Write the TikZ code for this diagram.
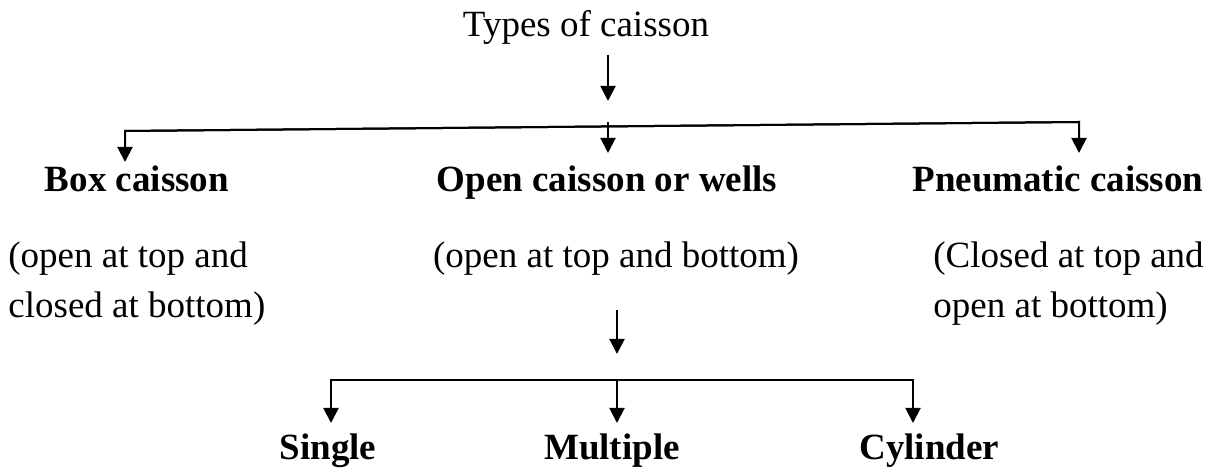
\documentclass[tikz,border=0pt]{standalone}
\usepackage{fontspec}
\setmainfont{Liberation Serif}
\usetikzlibrary{arrows.meta}
\begin{document}
\begin{tikzpicture}[x=0.5pt,y=-0.5pt,
  lbl/.style={inner sep=0pt, font=\fontsize{18.5}{22}\selectfont},
  blbl/.style={inner sep=0pt, font=\fontsize{18.5}{22}\selectfont\bfseries},
  conn/.style={line width=1pt, line join=miter},
  arr/.style={conn, -{Triangle[width=7.5pt,length=7.5pt]}}]
\useasboundingbox (0,0) rectangle (1221,474);

% texts
\node[lbl, anchor=base] (title) at (586,37) {Types of caisson};
\node[blbl, anchor=base] (box) at (137,192) {Box caisson};
\node[blbl, anchor=base] (open) at (607,192) {Open caisson or wells};
\node[blbl, anchor=base west] (pneu) at (912,192) {Pneumatic caisson};
\node[lbl, anchor=base west] (boxd1) at (8,268) {(open at top and};
\node[lbl, anchor=base west] (boxd2) at (8,318) {closed at bottom)};
\node[lbl, anchor=base] (opend) at (616,268) {(open at top and bottom)};
\node[lbl, anchor=base west] (pneud1) at (933,268) {(Closed at top and};
\node[lbl, anchor=base west] (pneud2) at (933,318) {open at bottom)};
\node[blbl, anchor=base] (single) at (328,460) {Single};
\node[blbl, anchor=base] (multiple) at (612,460) {Multiple};
\node[blbl, anchor=base west] (cyl) at (859,460) {Cylinder};

% connector points
\coordinate (t1) at (608,55);
\coordinate (t2) at (608,101);
\coordinate (hl) at (125,131);
\coordinate (hm) at (608,122);
\coordinate (hr) at (1079,122);
\coordinate (bl) at (125,162);
\coordinate (bm) at (608,153);
\coordinate (br) at (1079,153);
\coordinate (m1) at (617,310);
\coordinate (m2) at (617,354);
\coordinate (ll) at (331,380);
\coordinate (lm) at (617,380);
\coordinate (lr) at (913,380);
\coordinate (sl) at (331,423);
\coordinate (sm) at (617,423);
\coordinate (sr) at (913,423);

% connectors
\draw[arr] (t1) -- (t2);
\draw[arr] (hr) -- (hl) -- (bl);
\draw[arr] (hl) -- (hr) -- (br);
\draw[arr] (hm) -- (bm);
\draw[arr] (m1) -- (m2);
\draw[arr] (lr) -- (ll) -- (sl);
\draw[arr] (ll) -- (lr) -- (sr);
\draw[arr] (lm) -- (sm);
\end{tikzpicture}
\end{document}
